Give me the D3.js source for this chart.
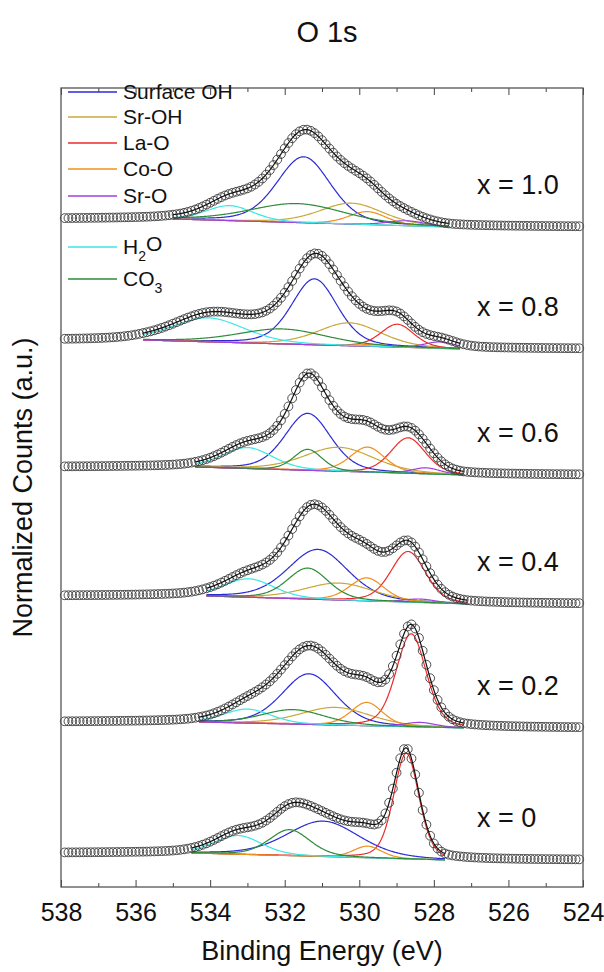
<!DOCTYPE html>
<html>
<head>
<meta charset="utf-8">
<script src="https://cdn.jsdelivr.net/npm/d3@7"></script>
<style>
  body { margin: 0; background: #fff; }
  text { font-family: "Liberation Sans", Arial, Helvetica, sans-serif; fill: #111; }
</style>
</head>
<body>
<div id="chart"></div>
<script>
// component names (legend order) and colours
const components = ["Surface OH", "Sr-OH", "La-O", "Co-O", "Sr-O", "H2O", "CO3"];
const compColors = ["#2b2bd6", "#c9a83a", "#ec2b2b", "#f0901e", "#a040e0", "#3ee6e6", "#2e8b3a"];

// samples, top to bottom
const samples = ["x = 1.0", "x = 0.8", "x = 0.6", "x = 0.4", "x = 0.2", "x = 0"];

// background level left (high BE) and right (low BE) of the fit window
const bgLeft  = [668, 547, 420, 291, 165, 34];
const bgRight = [660, 538, 412, 283, 159, 27];
// fit window (eV)
const fitFrom = [535.0, 535.8, 534.4, 534.1, 534.3, 534.5];
const fitTo   = [527.6, 527.3, 527.2, 527.1, 527.2, 527.7];

// peak centre (eV), height, FWHM (eV); component order as above, null = not fitted
const peakCenter = [
  [531.49, 530.21, null,   529.78, 528.74, 533.48, 531.66],
  [531.20, 530.26, 528.98, 529.60, 527.83, 534.05, 532.06],
  [531.38, 530.54, 528.69, 529.78, 528.21, 533.00, 531.38],
  [531.11, 530.54, 528.69, 529.80, 528.37, 532.97, 531.38],
  [531.35, 530.64, 528.61, 529.80, 528.37, 533.00, 531.77],
  [530.97, null,   528.74, 529.78, null,   533.25, 531.87]
];
const peakHeight = [
  [66, 21, null, 13, 5, 15, 19],
  [66, 23, 23, 2, 6.5, 24, 15],
  [57, 24, 35.5, 25, 6, 21, 21],
  [50, 17, 50.7, 23, 3.5, 18.5, 31],
  [50.7, 17.7, 93, 23.4, 4.6, 14, 14.5],
  [35.5, null, 105.7, 11.7, null, 18.8, 26]
];
const peakFwhm = [
  [1.7, 2.0, null, 1.2, 1.2, 1.5, 3.0],
  [1.45, 2.0, 1.05, 1.0, 1.0, 2.3, 2.8],
  [1.45, 2.2, 1.1, 1.1, 0.9, 1.6, 0.9],
  [1.9, 2.2, 1.1, 1.1, 1.0, 1.6, 1.3],
  [1.7, 2.2, 0.95, 1.0, 1.0, 1.5, 2.0],
  [2.3, null, 0.8, 0.9, null, 1.5, 1.3]
];

const xMajor = [538, 536, 534, 532, 530, 528, 526, 524];
const xMinor = [537, 535, 533, 531, 529, 527, 525];

// set the dimensions and margins of the graph
const margin = { top: 88, right: 21, bottom: 85, left: 61 },
  width = 604 - margin.left - margin.right,
  height = 972 - margin.top - margin.bottom;

const svg = d3.select("#chart")
  .append("svg")
  .attr("width", 604)
  .attr("height", 972);

const g = svg.append("g")
  .attr("transform", `translate(${margin.left},${margin.top})`);

const x = d3.scaleLinear().domain([538, 524]).range([0, width]);
const y = d3.scaleLinear().domain([0, height]).range([height, 0]);

// pseudo-Voigt (GL 30) line shape
const mix = 0.3;
function peak(e, c, h, w) {
  const t = (e - c) / w;
  return h * ((1 - mix) * Math.exp(-4 * Math.LN2 * t * t) + mix / (1 + 4 * t * t));
}
function bg(i, e) {
  if (e >= fitFrom[i]) return bgLeft[i];
  if (e <= fitTo[i]) return bgRight[i];
  const f = (fitFrom[i] - e) / (fitFrom[i] - fitTo[i]);
  return bgLeft[i] + (bgRight[i] - bgLeft[i]) * f;
}

const grid = d3.range(537.9, 524.0, -0.1);
const line = d3.line().x(d => x(d[0])).y(d => y(d[1]));

samples.forEach((s, i) => {
  const fitGrid = d3.range(fitFrom[i], fitTo[i] - 0.001, -0.02);
  const total = e => bg(i, e) + components.reduce((acc, c, k) =>
    peakCenter[i][k] == null ? acc : acc + peak(e, peakCenter[i][k], peakHeight[i][k], peakFwhm[i][k]), 0);

  // baseline
  g.append("path")
    .attr("d", line(fitGrid.map(e => [e, bg(i, e)])))
    .attr("fill", "none").attr("stroke", "#444").attr("stroke-width", 1);

  // components
  components.forEach((c, k) => {
    if (peakCenter[i][k] == null) return;
    g.append("path")
      .attr("d", line(fitGrid.map(e => [e, bg(i, e) + peak(e, peakCenter[i][k], peakHeight[i][k], peakFwhm[i][k])])))
      .attr("fill", "none").attr("stroke", compColors[k]).attr("stroke-width", 1.2);
  });

  // data points
  g.append("g").selectAll("circle")
    .data(grid)
    .join("circle")
    .attr("cx", e => x(e))
    .attr("cy", e => y(total(e)))
    .attr("r", 4.4)
    .attr("fill", "none")
    .attr("stroke", "#3a3a3a")
    .attr("stroke-width", 0.9);

  // envelope
  g.append("path")
    .attr("d", line(fitGrid.map(e => [e, total(e)])))
    .attr("fill", "none").attr("stroke", "#111").attr("stroke-width", 1.2);

  g.append("text")
    .attr("x", 416)
    .attr("y", y(bgRight[i] + 42))
    .attr("dy", "0.35em")
    .style("font-size", "27px")
    .text(s);
});

// axes, ticks inward on top and bottom
g.append("g")
  .attr("transform", `translate(0,${height})`)
  .call(d3.axisBottom(x).tickValues(xMajor).tickSize(-7).tickPadding(16).tickFormat(d3.format("d")))
  .call(a => a.select(".domain").remove())
  .call(a => a.selectAll("text").style("font-size", "25px").attr("fill", "#111"));
g.append("g")
  .attr("transform", `translate(0,${height})`)
  .call(d3.axisBottom(x).tickValues(xMinor).tickSize(-4).tickFormat(""))
  .call(a => a.select(".domain").remove());
g.append("g")
  .call(d3.axisTop(x).tickValues(xMajor).tickSize(-7).tickFormat(""))
  .call(a => a.select(".domain").remove());
g.append("g")
  .call(d3.axisTop(x).tickValues(xMinor).tickSize(-4).tickFormat(""))
  .call(a => a.select(".domain").remove());
g.selectAll(".tick line").attr("stroke", "#444");

g.append("rect")
  .attr("width", width).attr("height", height)
  .attr("fill", "none").attr("stroke", "#555").attr("stroke-width", 1.3);

// legend
const legendY = [92, 117, 143, 169, 196, 247, 279];
const leg = g.append("g").attr("transform", `translate(7,${-margin.top})`);
components.forEach((c, k) => {
  leg.append("line")
    .attr("x1", 0).attr("x2", 49)
    .attr("y1", legendY[k]).attr("y2", legendY[k])
    .attr("stroke", compColors[k]).attr("stroke-width", 1.3);
  const t = leg.append("text")
    .attr("x", 55).attr("y", legendY[k])
    .attr("dy", "0.35em")
    .style("font-size", "21px");
  if (c === "H2O" || c === "CO3") {
    const parts = c === "H2O" ? ["H", "2", "O"] : ["CO", "3", ""];
    t.append("tspan").text(parts[0]);
    t.append("tspan").attr("dy", "0.45em").style("font-size", "14px").text(parts[1]);
    if (parts[2]) t.append("tspan").attr("dy", "-0.45em").text(parts[2]);
  } else {
    t.text(c);
  }
});

// titles
svg.append("text")
  .attr("x", 327).attr("y", 42)
  .attr("text-anchor", "middle")
  .style("font-size", "29px")
  .text("O 1s");
svg.append("text")
  .attr("x", margin.left + width / 2).attr("y", 960)
  .attr("text-anchor", "middle")
  .style("font-size", "27px")
  .text("Binding Energy (eV)");
svg.append("text")
  .attr("transform", `translate(32,${margin.top + height / 2}) rotate(-90)`)
  .attr("text-anchor", "middle")
  .style("font-size", "27px")
  .text("Normalized Counts (a.u.)");
</script>
</body>
</html>
